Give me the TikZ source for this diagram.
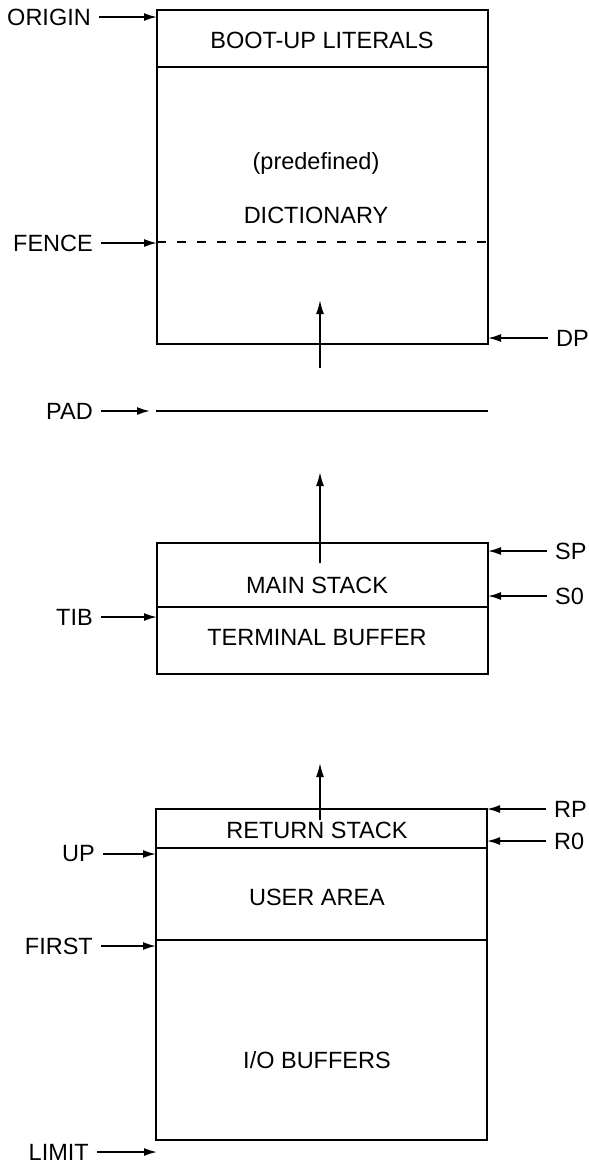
\documentclass[tikz,border=0pt]{standalone}
\usepackage{fontspec}
\setmainfont{Liberation Sans}
\usetikzlibrary{arrows.meta}

\begin{document}
\begin{tikzpicture}[x=1pt,y=-1pt,
    lbl/.style={font=\fontsize{23.5}{25}\selectfont, inner sep=0pt},
    ptr/.style={-{Latex[length=13pt,width=8pt]}, line width=1.7pt, shorten <=8pt},
    growarrow/.style={-{Latex[length=14pt,width=8pt]}, line width=1.7pt},
    wall/.style={line width=1.8pt}]
          \useasboundingbox (0,0) rectangle (589,1163);
        %
        % Dictionary block:
          \draw[wall] (157,10) rectangle (488,344);
          \draw[wall] (157,67) -- (488,67);
          \draw[wall, dash pattern=on 9pt off 11pt] (157,242) -- (488,242);
          \node[lbl] (lit)  at (322,40)  {BOOT-UP LITERALS};
          \node[lbl] (pre)  at (316,163) {(predefined)};
          \node[lbl] (dict) at (316,215) {DICTIONARY};
          \coordinate (dictup0) at (320,368);
          \coordinate (dictup1) at (320,300);
          \draw[growarrow] (dictup0) -- (dictup1);
        %
        % Pad line:
          \coordinate (pad0) at (156,411);
          \coordinate (pad1) at (488,411);
          \draw[wall] (pad0) -- (pad1);
        %
        % Stack and terminal buffer:
          \draw[wall] (157,543) rectangle (488,674);
          \draw[wall] (157,607) -- (488,607);
          \node[lbl] (mstack) at (317,585) {MAIN STACK};
          \node[lbl] (tbuf)   at (317,638) {TERMINAL BUFFER};
          \coordinate (stkup0) at (320,563);
          \coordinate (stkup1) at (320,472);
          \draw[growarrow] (stkup0) -- (stkup1);
        %
        % Return stack, user area, buffers:
          \draw[wall] (156,809) rectangle (487,1140);
          \draw[wall] (156,848) -- (487,848);
          \draw[wall] (156,940) -- (487,940);
          \node[lbl] (rstack) at (317,830)  {RETURN STACK};
          \node[lbl] (uarea)  at (317,897)  {USER AREA};
          \node[lbl] (iobuf)  at (317,1060) {I/O BUFFERS};
          \coordinate (rstup0) at (320,820);
          \coordinate (rstup1) at (320,763);
          \draw[growarrow] (rstup0) -- (rstup1);
        %
        % Left pointers:
          \node[lbl, anchor=east] (origin) at (91,17)   {ORIGIN};
          \node[lbl, anchor=east] (fence)  at (93,243)  {FENCE};
          \node[lbl, anchor=east] (pad)    at (93,411)  {PAD};
          \node[lbl, anchor=east] (tib)    at (93,617)  {TIB};
          \node[lbl, anchor=east] (up)     at (95,854)  {UP};
          \node[lbl, anchor=east] (first)  at (93,946)  {FIRST};
          \node[lbl, anchor=east] (limit)  at (89,1152) {LIMIT};
          \coordinate (origin1) at (157,17);
          \coordinate (fence1)  at (157,243);
          \coordinate (pad2)    at (150,411);
          \coordinate (tib1)    at (157,617);
          \coordinate (up1)     at (156,854);
          \coordinate (first1)  at (156,946);
          \coordinate (limit1)  at (157,1152);
          \draw[ptr] (origin) -- (origin1);
          \draw[ptr] (fence)  -- (fence1);
          \draw[ptr] (pad)    -- (pad2);
          \draw[ptr] (tib)    -- (tib1);
          \draw[ptr] (up)     -- (up1);
          \draw[ptr] (first)  -- (first1);
          \draw[ptr] (limit)  -- (limit1);
        %
        % Right pointers:
          \node[lbl, anchor=west] (dp) at (556,338) {DP};
          \node[lbl, anchor=west] (sp) at (555,551) {SP};
          \node[lbl, anchor=west] (s0) at (555,596) {S0};
          \node[lbl, anchor=west] (rp) at (554,809) {RP};
          \node[lbl, anchor=west] (r0) at (554,841) {R0};
          \coordinate (dp1) at (488,338);
          \coordinate (sp1) at (488,551);
          \coordinate (s01) at (488,596);
          \coordinate (rp1) at (487,809);
          \coordinate (r01) at (487,841);
          \draw[ptr] (dp) -- (dp1);
          \draw[ptr] (sp) -- (sp1);
          \draw[ptr] (s0) -- (s01);
          \draw[ptr] (rp) -- (rp1);
          \draw[ptr] (r0) -- (r01);
            \end{tikzpicture}
\end{document}
